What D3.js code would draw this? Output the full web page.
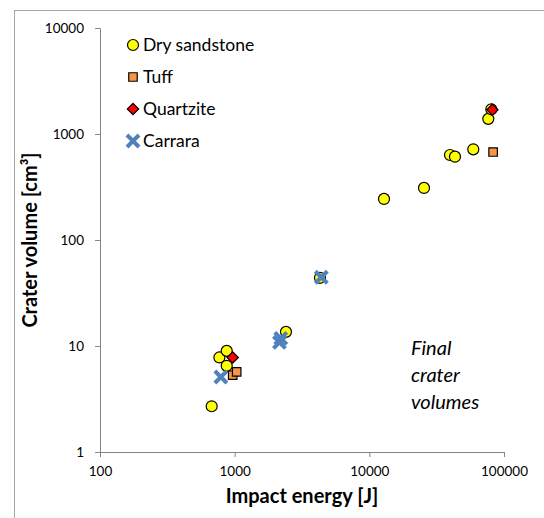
<!DOCTYPE html>
<html>
<head>
<meta charset="utf-8">
<script src="https://cdn.jsdelivr.net/npm/d3@7"></script>
<style>
  body { margin: 0; background: #fff; }
  svg { display: block; }
  text { font-family: Lato, "Liberation Sans", sans-serif; }
</style>
</head>
<body>
<div id="chart"></div>
<script>
// impact energy [J] / crater volume [cm3] per rock type
var sandstoneEnergy = [675, 770, 873, 873, 2405, 4300, 12850, 25460, 39700, 43250, 59160, 76450, 80500];
var sandstoneVolume = [2.7, 7.8, 9.0, 6.5, 13.6, 44, 244, 310, 634, 611, 717, 1390, 1710];
var tuffEnergy = [967, 1035, 83000];
var tuffVolume = [5.3, 5.7, 676];
var quartziteEnergy = [967, 82000];
var quartziteVolume = [7.8, 1690];
var carraraEnergy = [790, 2150, 2200, 4400];
var carraraVolume = [5.1, 10.8, 11.8, 44.5];

var xTicks = [100, 1000, 10000, 100000];
var yTicks = [1, 10, 100, 1000, 10000];

var seriesNames = ["Dry sandstone", "Tuff", "Quartzite", "Carrara"];

var width = 544, height = 518;
var svg = d3.select('#chart').append('svg')
    .attr('width', width)
    .attr('height', height);

// chart frame
svg.append('rect')
    .attr('x', 14.5).attr('y', 10.5)
    .attr('width', 540).attr('height', 520)
    .attr('fill', 'none')
    .attr('stroke', '#a6a6a6');

var x = d3.scaleLog().domain([100, 100000]).range([100, 504]);
var y = d3.scaleLog().domain([1, 10000]).range([452, 28]);

var axisColor = '#868686';

var xAxis = svg.append('g')
    .attr('transform', 'translate(0,452)')
    .call(d3.axisBottom(x).tickValues(xTicks).tickSize(5).tickPadding(9)
        .tickFormat(function (d) { return String(d); }));
var yAxis = svg.append('g')
    .attr('transform', 'translate(100,0)')
    .call(d3.axisLeft(y).tickValues(yTicks).tickSize(5).tickPadding(11)
        .tickFormat(function (d) { return String(d); }));

[xAxis, yAxis].forEach(function (a) {
    a.select('.domain').attr('stroke', axisColor);
    a.selectAll('.tick line').attr('stroke', axisColor);
    a.selectAll('.tick text')
        .attr('fill', '#000')
        .style('font-size', '13.5px');
});

function zip(xs, ys) {
    return xs.map(function (v, i) { return { e: v, v: ys[i] }; });
}

var circleSym = d3.symbol().type(d3.symbolCircle).size(95);
var squareSym = d3.symbol().type(d3.symbolSquare).size(72);
var diamondSym = d3.symbol().type(d3.symbolSquare).size(64);

function drawCross(sel) {
    sel.append('path')
        .attr('d', 'M-6,-6L6,6M-6,6L6,-6')
        .attr('stroke', '#4f81bd')
        .attr('stroke-width', 4)
        .attr('fill', 'none');
}

var plot = svg.append('g');

plot.selectAll('.sand').data(zip(sandstoneEnergy, sandstoneVolume)).enter()
    .append('path').attr('class', 'sand')
    .attr('d', circleSym)
    .attr('transform', function (d) { return 'translate(' + x(d.e) + ',' + y(d.v) + ')'; })
    .attr('fill', '#ffff00').attr('stroke', '#000').attr('stroke-width', 1.2);

plot.selectAll('.tuff').data(zip(tuffEnergy, tuffVolume)).enter()
    .append('path').attr('class', 'tuff')
    .attr('d', squareSym)
    .attr('transform', function (d) { return 'translate(' + x(d.e) + ',' + y(d.v) + ')'; })
    .attr('fill', '#f79646').attr('stroke', '#000').attr('stroke-width', 1.2);

plot.selectAll('.quartz').data(zip(quartziteEnergy, quartziteVolume)).enter()
    .append('path').attr('class', 'quartz')
    .attr('d', diamondSym)
    .attr('transform', function (d) { return 'translate(' + x(d.e) + ',' + y(d.v) + ') rotate(45)'; })
    .attr('fill', '#ff0000').attr('stroke', '#000').attr('stroke-width', 1.2);

plot.selectAll('.carrara').data(zip(carraraEnergy, carraraVolume)).enter()
    .append('g').attr('class', 'carrara')
    .attr('transform', function (d) { return 'translate(' + x(d.e) + ',' + y(d.v) + ')'; })
    .call(drawCross);

// legend
var legendY = [45, 77, 109, 141];
var legend = svg.append('g');
seriesNames.forEach(function (name, i) {
    var g = legend.append('g').attr('transform', 'translate(133,' + legendY[i] + ')');
    if (i === 0) {
        g.append('path').attr('d', circleSym)
            .attr('fill', '#ffff00').attr('stroke', '#000').attr('stroke-width', 1.2);
    } else if (i === 1) {
        g.append('path').attr('d', squareSym)
            .attr('fill', '#f79646').attr('stroke', '#000').attr('stroke-width', 1.2);
    } else if (i === 2) {
        g.append('path').attr('d', diamondSym).attr('transform', 'rotate(45)')
            .attr('fill', '#ff0000').attr('stroke', '#000').attr('stroke-width', 1.2);
    } else {
        g.call(drawCross);
    }
    g.append('text')
        .attr('x', 10).attr('y', 6)
        .style('font-size', '17.5px')
        .text(name);
});

// annotation
var note = svg.append('text')
    .style('font-size', '20px')
    .style('font-style', 'italic');
['Final', 'crater', 'volumes'].forEach(function (t, i) {
    note.append('tspan').attr('x', 411).attr('y', 355 + i * 27).text(t);
});

// axis titles
svg.append('text')
    .attr('x', 302).attr('y', 503)
    .attr('text-anchor', 'middle')
    .style('font-size', '20px').style('font-weight', 'bold')
    .text('Impact energy [J]');
svg.append('text')
    .attr('transform', 'translate(37,240) rotate(-90)')
    .attr('text-anchor', 'middle')
    .style('font-size', '20px').style('font-weight', 'bold')
    .text('Crater volume [cm³]');
</script>
</body>
</html>
